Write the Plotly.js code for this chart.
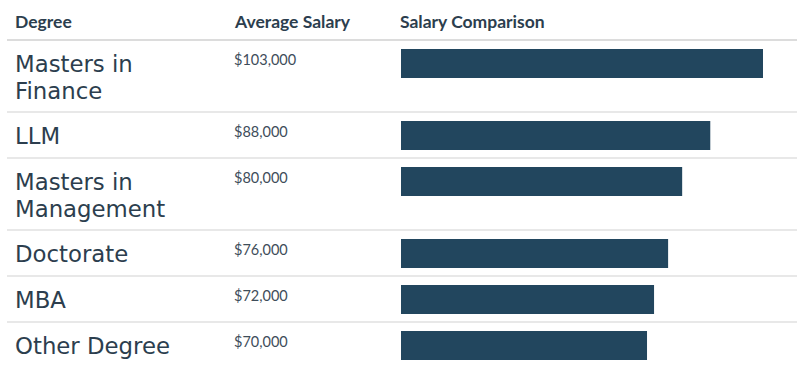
<!DOCTYPE html>
<html>
<head>
<meta charset="utf-8">
<script src="https://cdn.plot.ly/plotly-3.0.1.min.js"></script>
<style>html,body{margin:0;padding:0;background:#fff;}#chart{width:797px;height:383px;}</style>
</head>
<body>
<div id="chart"></div>
<script>
// ---- data ----
var degrees = ["Masters in\nFinance", "LLM", "Masters in\nManagement", "Doctorate", "MBA", "Other Degree"];
var salaries = [103000, 88000, 80000, 76000, 72000, 70000];
var salaryLabels = ["$103,000", "$88,000", "$80,000", "$76,000", "$72,000", "$70,000"];
var headers = ["Degree", "Average Salary", "Salary Comparison"];

// ---- layout helpers (pixel y axis for rows) ----
var W = 797, H = 383;
var headerBottom = 40;
var lineH = 27;
var rowTops = [], rowHeights = [];
var y = headerBottom;
degrees.forEach(function (d) {
  var n = d.split("\n").length;
  var h = 20 + 26 * n;
  rowTops.push(y); rowHeights.push(h); y += h;
});

var barColor = "#22465e";
var textColor = "#2c3e4e";
var barCenters = rowTops.map(function (t) { return t + 23.5; });

var trace = {
  type: "bar",
  orientation: "h",
  x: salaries,
  y: barCenters,
  width: 29,
  marker: { color: barColor, line: { width: 0 } },
  hoverinfo: "skip",
  xaxis: "x", yaxis: "y"
};

var annotations = [];
var colX = [13, 232, 398];
headers.forEach(function (h, i) {
  annotations.push({
    xref: "paper", yref: "y", x: colX[i] / W, y: 21, text: "<b>" + h + "</b>",
    showarrow: false, xanchor: "left", yanchor: "middle",
    font: { family: "Lato", size: 17.5, color: textColor }
  });
});
degrees.forEach(function (d, i) {
  d.split("\n").forEach(function (ln, j) {
    annotations.push({
      xref: "paper", yref: "y", x: 14 / W, y: rowTops[i] + 23.5 + j * lineH, text: ln,
      showarrow: false, xanchor: "left", yanchor: "middle", borderpad: 0,
      font: { family: "DejaVu Sans", size: 22.8, color: textColor }
    });
  });
  annotations.push({
    xref: "paper", yref: "y", x: 232 / W, y: rowTops[i] + 19, text: salaryLabels[i],
    showarrow: false, xanchor: "left", yanchor: "middle",
    font: { family: "Lato", size: 14.5, color: "#3e4d5a" }
  });
});

var shapes = [];
shapes.push({ type: "line", xref: "paper", yref: "y", x0: 7 / W, x1: 1, y0: headerBottom, y1: headerBottom,
  line: { color: "#dcdcdc", width: 2 } });
rowTops.forEach(function (t, i) {
  if (i === 0) return;
  shapes.push({ type: "line", xref: "paper", yref: "y", x0: 7 / W, x1: 1, y0: t, y1: t,
    line: { color: "#e0e0e0", width: 1.5 } });
});

var pxPerThousand = (763 - 401) / 103;
var layout = {
  width: W, height: H,
  margin: { l: 0, r: 0, t: 0, b: 0 },
  paper_bgcolor: "#ffffff", plot_bgcolor: "rgba(0,0,0,0)",
  showlegend: false,
  xaxis: { domain: [401 / W, 1], range: [0, (W - 401) / pxPerThousand * 1000],
    visible: false, fixedrange: true },
  yaxis: { domain: [0, 1], range: [H, 0], visible: false, fixedrange: true },
  annotations: annotations,
  shapes: shapes
};

Plotly.newPlot("chart", [trace], layout, { displayModeBar: false, staticPlot: true });
</script>
</body>
</html>
